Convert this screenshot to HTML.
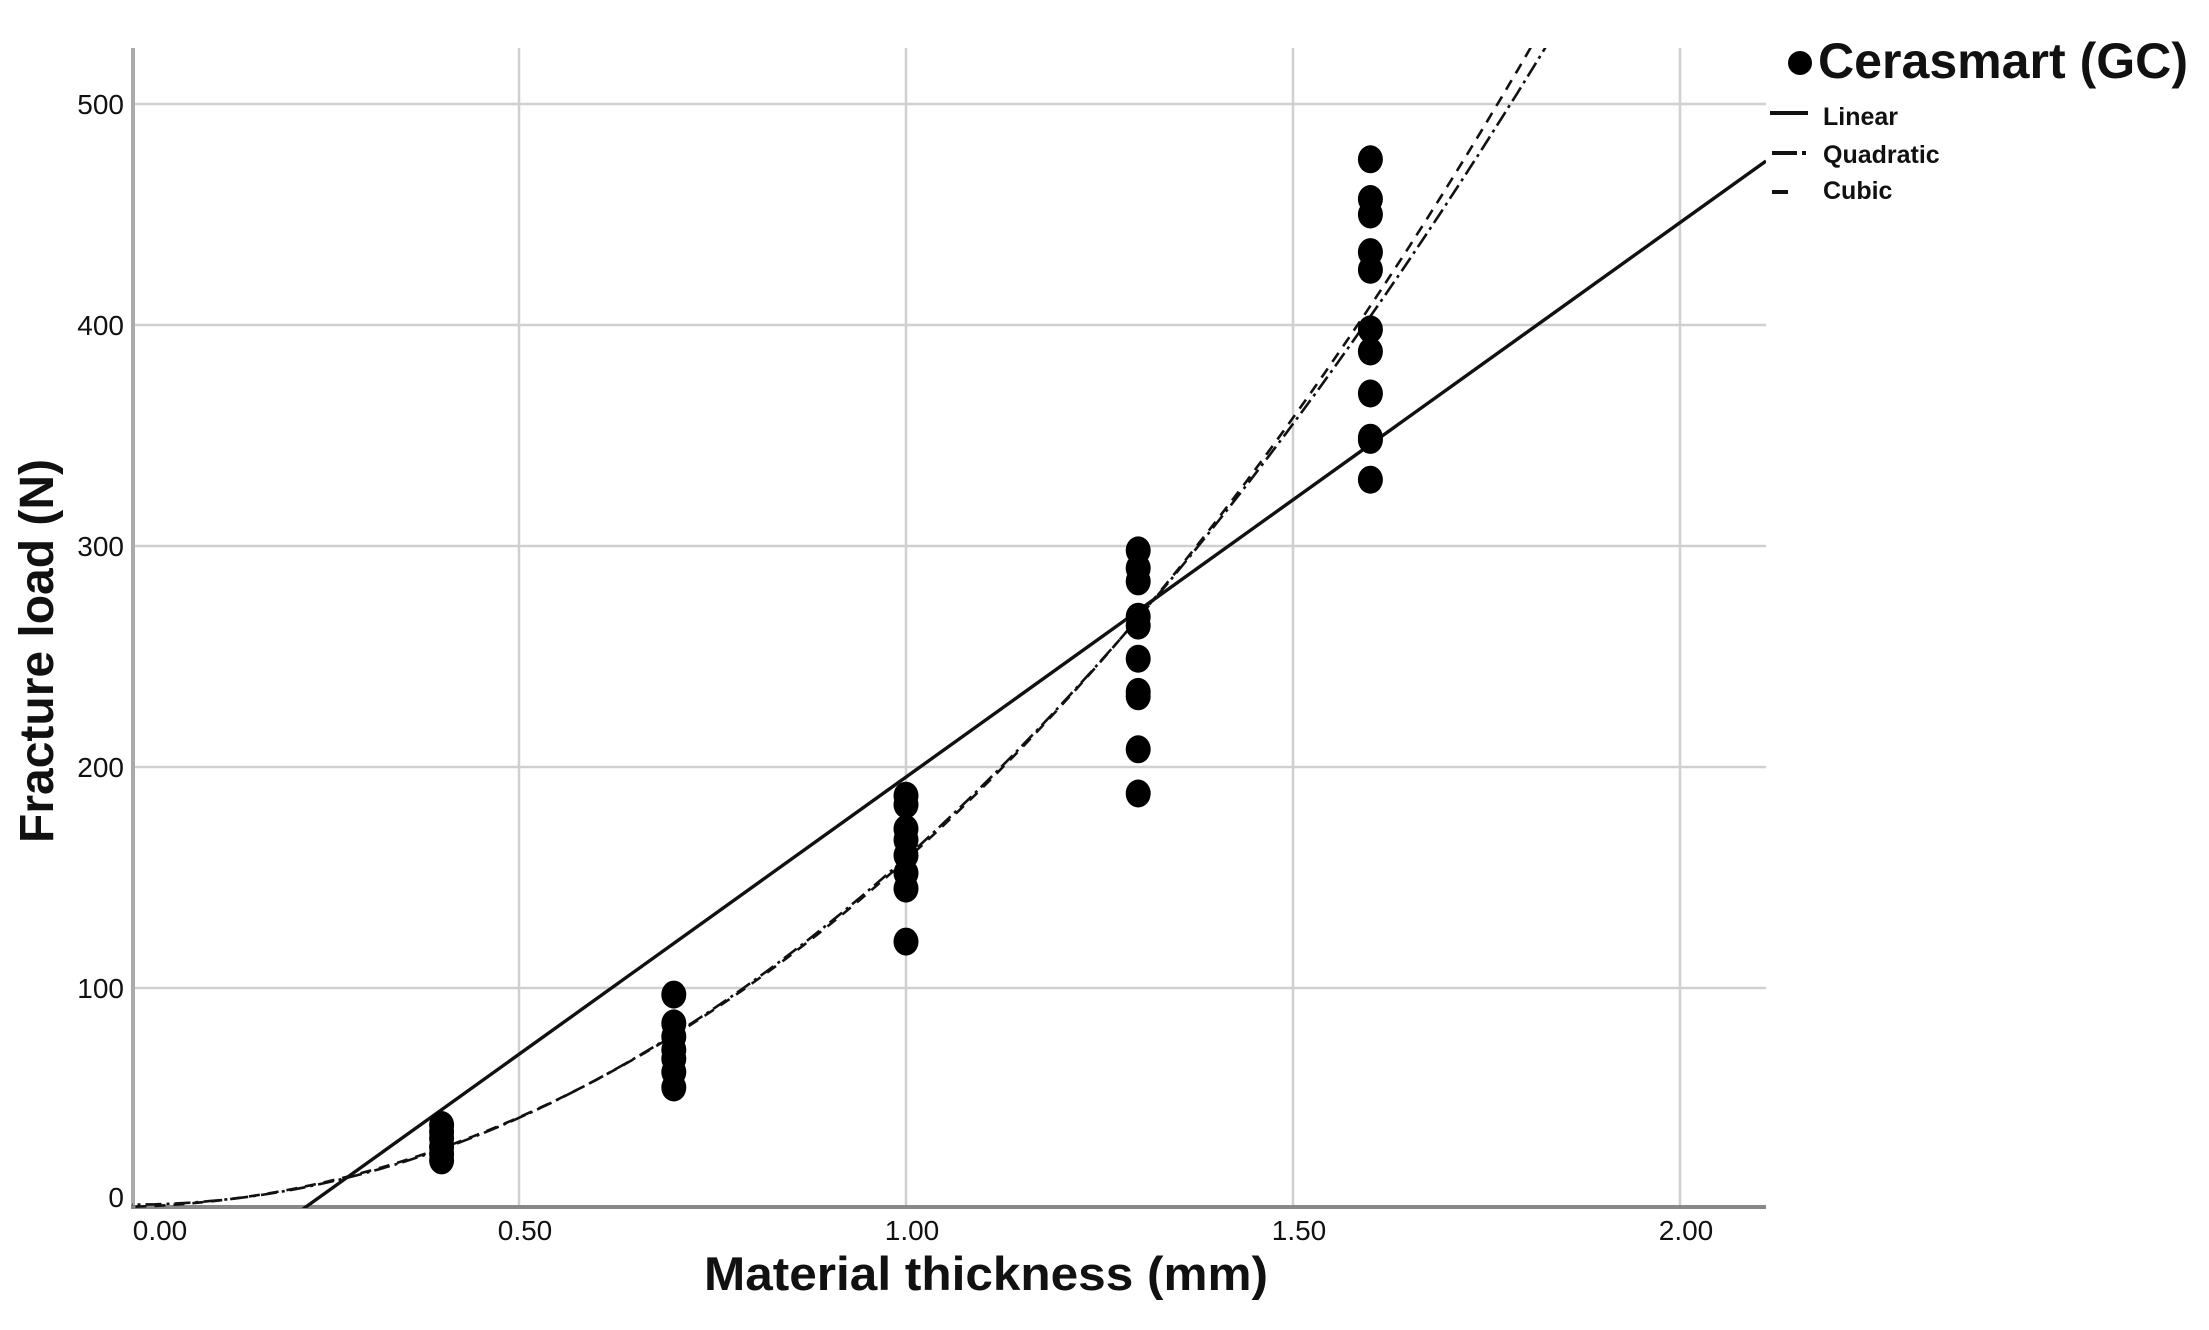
<!DOCTYPE html>
<html><head><meta charset="utf-8"><style>html,body{margin:0;padding:0;background:#fff}svg{display:block}</style></head>
<body>
<svg width="2209" height="1330" viewBox="0 0 2209 1330" xmlns="http://www.w3.org/2000/svg" font-family="Liberation Sans, Arial, sans-serif">
<defs><clipPath id="pc"><rect x="132" y="48" width="1634" height="1160"/></clipPath></defs>
<g stroke="#d0d0d0" stroke-width="2.5">
<line x1="133" y1="104" x2="1766" y2="104"/>
<line x1="133" y1="325" x2="1766" y2="325"/>
<line x1="133" y1="546" x2="1766" y2="546"/>
<line x1="133" y1="767" x2="1766" y2="767"/>
<line x1="133" y1="988" x2="1766" y2="988"/>
<line x1="519" y1="48" x2="519" y2="1207"/>
<line x1="906" y1="48" x2="906" y2="1207"/>
<line x1="1293" y1="48" x2="1293" y2="1207"/>
<line x1="1680" y1="48" x2="1680" y2="1207"/>
</g>
<line x1="133" y1="48" x2="133" y2="1208" stroke="#aaa" stroke-width="4"/>
<line x1="131" y1="1207" x2="1766" y2="1207" stroke="#888" stroke-width="4"/>
<g font-size="28" fill="#111" text-anchor="end">
<text x="124" y="114">500</text><text x="124" y="335">400</text><text x="124" y="556">300</text>
<text x="124" y="777">200</text><text x="124" y="998">100</text><text x="124" y="1207">0</text>
</g>
<g font-size="28" fill="#111" text-anchor="middle">
<text x="160" y="1240">0.00</text><text x="525" y="1240">0.50</text><text x="912" y="1240">1.00</text>
<text x="1299" y="1240">1.50</text><text x="1686" y="1240">2.00</text>
</g>
<text x="986" y="1290" font-size="47" font-weight="bold" text-anchor="middle" textLength="564" lengthAdjust="spacingAndGlyphs" fill="#111">Material thickness (mm)</text>
<text transform="translate(53,843) rotate(-90)" font-size="48" font-weight="bold" fill="#111">Fracture load (N)</text>
<g clip-path="url(#pc)" fill="none" stroke="#111">
<line x1="303" y1="1209" x2="1766" y2="161" stroke-width="3.4"/>
<polyline id="q" stroke-width="2.6" stroke-dasharray="16 5 3 5" points=""/>
<polyline id="c" stroke-width="2.6" stroke-dasharray="11 8" points=""/>
</g>
<g fill="#000">
<ellipse cx="441.6" cy="1160.4" rx="12.5" ry="14"/><ellipse cx="441.6" cy="1153.8" rx="12.5" ry="14"/><ellipse cx="441.6" cy="1147.1" rx="12.5" ry="14"/><ellipse cx="441.6" cy="1138.3" rx="12.5" ry="14"/><ellipse cx="441.6" cy="1131.7" rx="12.5" ry="14"/><ellipse cx="441.6" cy="1125" rx="12.5" ry="14"/>
<ellipse cx="673.8" cy="1087.5" rx="12.5" ry="14"/><ellipse cx="673.8" cy="1072" rx="12.5" ry="14"/><ellipse cx="673.8" cy="1058.7" rx="12.5" ry="14"/><ellipse cx="673.8" cy="1049.9" rx="12.5" ry="14"/><ellipse cx="673.8" cy="1036.6" rx="12.5" ry="14"/><ellipse cx="673.8" cy="1023.4" rx="12.5" ry="14"/><ellipse cx="673.8" cy="994.6" rx="12.5" ry="14"/>
<ellipse cx="906" cy="941.6" rx="12.5" ry="14"/><ellipse cx="906" cy="888.6" rx="12.5" ry="14"/><ellipse cx="906" cy="873.1" rx="12.5" ry="14"/><ellipse cx="906" cy="855.4" rx="12.5" ry="14"/><ellipse cx="906" cy="839.9" rx="12.5" ry="14"/><ellipse cx="906" cy="828.9" rx="12.5" ry="14"/><ellipse cx="906" cy="804.6" rx="12.5" ry="14"/><ellipse cx="906" cy="795.7" rx="12.5" ry="14"/>
<ellipse cx="1138.2" cy="793.5" rx="12.5" ry="14"/><ellipse cx="1138.2" cy="749.3" rx="12.5" ry="14"/><ellipse cx="1138.2" cy="696.3" rx="12.5" ry="14"/><ellipse cx="1138.2" cy="691.9" rx="12.5" ry="14"/><ellipse cx="1138.2" cy="658.7" rx="12.5" ry="14"/><ellipse cx="1138.2" cy="625.6" rx="12.5" ry="14"/><ellipse cx="1138.2" cy="616.7" rx="12.5" ry="14"/><ellipse cx="1138.2" cy="581.4" rx="12.5" ry="14"/><ellipse cx="1138.2" cy="568.1" rx="12.5" ry="14"/><ellipse cx="1138.2" cy="550.4" rx="12.5" ry="14"/>
<ellipse cx="1370.4" cy="479.7" rx="12.5" ry="14"/><ellipse cx="1370.4" cy="439.9" rx="12.5" ry="14"/><ellipse cx="1370.4" cy="437.7" rx="12.5" ry="14"/><ellipse cx="1370.4" cy="393.5" rx="12.5" ry="14"/><ellipse cx="1370.4" cy="351.5" rx="12.5" ry="14"/><ellipse cx="1370.4" cy="329.4" rx="12.5" ry="14"/><ellipse cx="1370.4" cy="269.8" rx="12.5" ry="14"/><ellipse cx="1370.4" cy="252.1" rx="12.5" ry="14"/><ellipse cx="1370.4" cy="214.5" rx="12.5" ry="14"/><ellipse cx="1370.4" cy="199" rx="12.5" ry="14"/><ellipse cx="1370.4" cy="159.3" rx="12.5" ry="14"/>
</g>
<circle cx="1800" cy="63" r="12" fill="#000"/>
<text x="1818" y="78" font-size="50" font-weight="bold" textLength="370" lengthAdjust="spacingAndGlyphs" fill="#111">Cerasmart (GC)</text>
<line x1="1770" y1="113" x2="1808" y2="113" stroke="#111" stroke-width="4"/>
<line x1="1772" y1="153" x2="1797" y2="153" stroke="#111" stroke-width="4"/>
<line x1="1802" y1="153" x2="1806" y2="153" stroke="#111" stroke-width="4"/>
<line x1="1772" y1="192" x2="1788" y2="192" stroke="#111" stroke-width="4"/>
<g font-size="25" font-weight="bold" fill="#111">
<text x="1823" y="125">Linear</text><text x="1823" y="163">Quadratic</text><text x="1823" y="199">Cubic</text>
</g>
<script>
function X(m){return 132+774*m}function Y(n){return 1209-2.21*n}
var q=[],c=[];
for(var m=-0.02;m<=1.9;m+=0.01){
q.push(X(m).toFixed(1)+','+Y(2+157*m*m).toFixed(1));
c.push(X(m).toFixed(1)+','+Y(1+10*m+137*m*m+10*m*m*m).toFixed(1));}
document.getElementById('q').setAttribute('points',q.join(' '));
document.getElementById('c').setAttribute('points',c.join(' '));
</script>
</svg>
</body></html>
